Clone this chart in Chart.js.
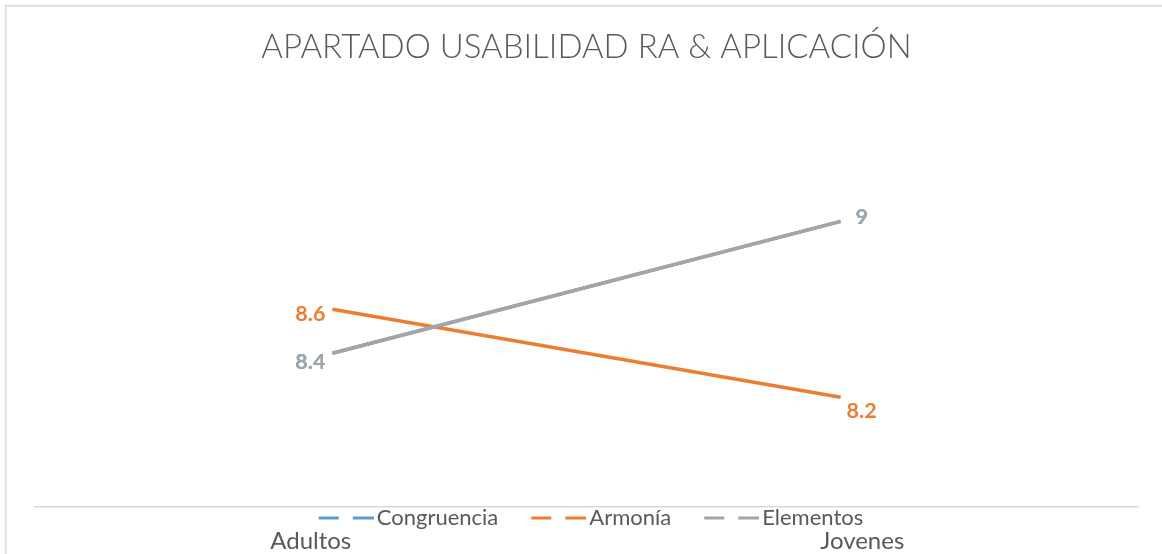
<!DOCTYPE html>
<html><head><meta charset="utf-8">
<script src="https://cdn.jsdelivr.net/npm/chart.js@4/dist/chart.umd.min.js"></script>
<style>html,body{margin:0;padding:0;background:#fff;}#wrap{width:1162px;height:554px;position:relative;}</style>
</head><body><div id="wrap"><canvas id="c"></canvas></div>
<script>
const chartTitle = 'APARTADO USABILIDAD RA & APLICACIÓN';
const categories = ['Adultos', 'Jovenes'];
const seriesNames = ['Congruencia', 'Armonía', 'Elementos'];
const congruencia = [8.4, 9];
const armonia = [8.6, 8.2];
const elementos = [8.4, 9];
const seriesValues = [congruencia, armonia, elementos];
const seriesColors = ['#5B9BD5', '#ED7D31', '#A5A5A5'];
const labelColors = ['#5B9BD5', '#ED7D31', '#A2A5A9'];
// label offsets (dx, dy) per series per category
const labelOffsets = [
  [[-22, 9], [21, -4]],
  [[-22, 5], [21, 14]],
  [[-22, 9], [21, -4]]
];

const FONT = 'Lato, "Open Sans", sans-serif';

function makeSymbol(color) {
  const c = document.createElement('canvas');
  c.width = 96; c.height = 4;
  const g = c.getContext('2d');
  g.fillStyle = color;
  g.fillRect(41, 0.5, 20, 3);
  g.fillRect(75, 0.5, 21, 3);
  return c;
}

const borderPlugin = {
  id: 'outerBorder',
  beforeDraw(chart) {
    const ctx = chart.ctx;
    ctx.save();
    ctx.fillStyle = '#fff';
    ctx.fillRect(0, 0, chart.width, chart.height);
    ctx.strokeStyle = '#d9d9d9';
    ctx.lineWidth = 1.5;
    ctx.strokeRect(5.75, 5.75, chart.width + 50, chart.height + 50);
    ctx.restore();
  }
};

// legend sits between the axis line and the category labels (Excel style)
const layoutTweak = {
  id: 'layoutTweak',
  afterLayout(chart) {
    const lg = chart.legend;
    if (lg) { lg.left -= 12; lg.right -= 12; }
    const s = chart.scales.xl;
    if (s) { s.top = s.bottom - 27; s.height = 27; }
  }
};

const labelPlugin = {
  id: 'pointLabels',
  afterDatasetsDraw(chart) {
    const ctx = chart.ctx;
    ctx.save();
    ctx.font = 'bold 21.5px ' + FONT;
    ctx.textAlign = 'center';
    ctx.textBaseline = 'middle';
    chart.data.datasets.forEach((ds, i) => {
      const meta = chart.getDatasetMeta(i);
      meta.data.forEach((pt, j) => {
        const off = labelOffsets[i][j];
        ctx.fillStyle = labelColors[i];
        ctx.fillText(String(seriesValues[i][j]), pt.x + off[0], pt.y + off[1]);
      });
    });
    ctx.restore();
  }
};

const datasets = seriesNames.map((name, i) => ({
  label: name,
  data: seriesValues[i].map((v, j) => ({x: j, y: v})),
  borderColor: seriesColors[i],
  backgroundColor: seriesColors[i],
  borderWidth: 3.5,
  pointRadius: 0,
  pointHoverRadius: 0,
  tension: 0,
  xAxisID: 'x',
  yAxisID: 'y',
  order: seriesNames.length - i
}));

new Chart(document.getElementById('c'), {
  type: 'line',
  data: { labels: categories, datasets },
  plugins: [borderPlugin, labelPlugin, layoutTweak],
  options: {
    responsive: true,
    maintainAspectRatio: false,
    animation: false,
    layout: { padding: { left: 35, right: 24, top: 28, bottom: 0 } },
    scales: {
      x: {
        type: 'linear', position: 'bottom', min: -0.585, max: 1.585, weight: 0,
        grid: { display: false, drawTicks: false },
        ticks: { display: false },
        border: { display: true, color: '#d9d9d9', width: 1.5 }
      },
      xl: {
        type: 'category', labels: categories, position: 'bottom', offset: true, weight: 2,
        grid: { display: false, drawTicks: false },
        border: { display: false },
        ticks: { font: { family: FONT, size: 24 }, color: '#595959', padding: 0, maxRotation: 0 },
        afterFit(scale) { scale.height = 15; }
      },
      y: { type: 'linear', min: 7.7, max: 9.6, display: false }
    },
    plugins: {
      title: {
        display: true, text: chartTitle, color: '#595959',
        font: { family: FONT, size: 33, weight: '300' },
        padding: { top: 0, bottom: 22 }
      },
      legend: {
        position: 'bottom', weight: 1,
        labels: {
          usePointStyle: true, pointStyleWidth: 80, boxHeight: 4, padding: 0,
          color: '#595959', font: { family: FONT, size: 22 },
          sort: (a, b) => a.datasetIndex - b.datasetIndex,
          generateLabels(chart) {
            const items = Chart.defaults.plugins.legend.labels.generateLabels(chart);
            items.forEach(it => { it.pointStyle = makeSymbol(seriesColors[it.datasetIndex]); });
            return items;
          }
        }
      },
      tooltip: { enabled: false }
    }
  }
});
</script>
</body></html>
